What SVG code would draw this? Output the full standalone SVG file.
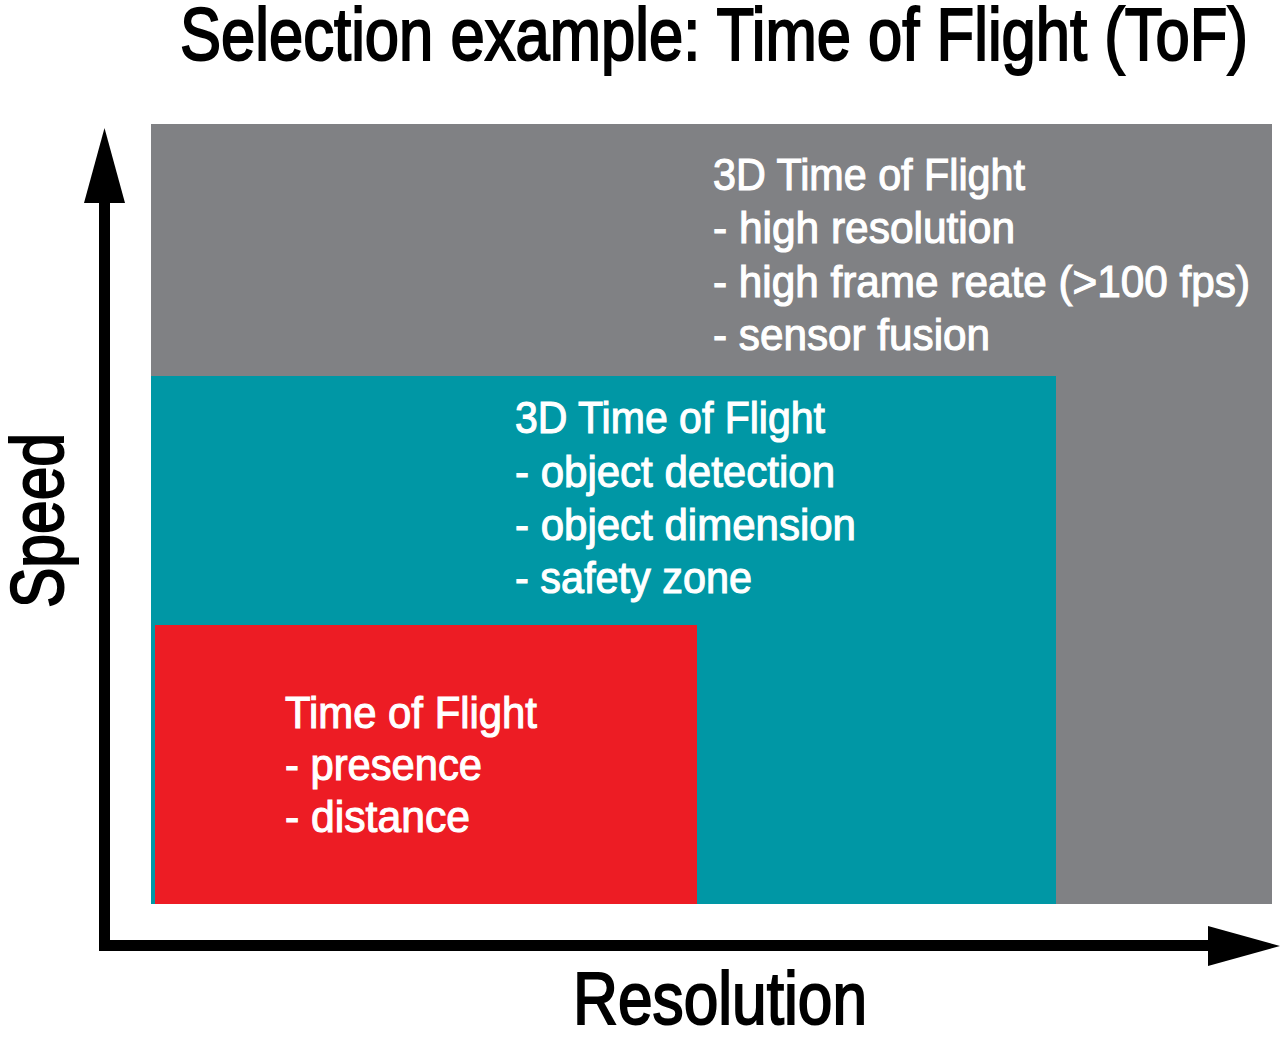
<svg xmlns="http://www.w3.org/2000/svg" width="1280" height="1038" viewBox="0 0 1280 1038">
<style>
text{font-family:"Liberation Sans","Arial",sans-serif;}
.lbl{fill:#ffffff;stroke:#ffffff;stroke-width:1.1px;font-size:44px;}
.axis{fill:#000000;stroke:#000000;stroke-width:2px;font-size:74px;}
</style>
<rect x="0" y="0" width="1280" height="1038" fill="#ffffff"/>
<g id="title">
<text class="axis" x="180" y="60" textLength="1068" lengthAdjust="spacingAndGlyphs">Selection example: Time of Flight (ToF)</text>
</g>
<g id="node-3d-tof-high">
<rect x="151" y="124" width="1121" height="780" fill="#808184"/>
<text class="lbl" x="713" y="190" textLength="312" lengthAdjust="spacingAndGlyphs">3D Time of Flight</text>
<text class="lbl" x="713" y="243" textLength="302" lengthAdjust="spacingAndGlyphs">- high resolution</text>
<text class="lbl" x="713" y="297" textLength="537" lengthAdjust="spacingAndGlyphs">- high frame reate (&gt;100 fps)</text>
<text class="lbl" x="713" y="350" textLength="277" lengthAdjust="spacingAndGlyphs">- sensor fusion</text>
</g>
<g id="node-3d-tof">
<rect x="151" y="376" width="905" height="528" fill="#0097A5"/>
<text class="lbl" x="515" y="433" textLength="310" lengthAdjust="spacingAndGlyphs">3D Time of Flight</text>
<text class="lbl" x="515" y="487" textLength="320" lengthAdjust="spacingAndGlyphs">- object detection</text>
<text class="lbl" x="515" y="540" textLength="341" lengthAdjust="spacingAndGlyphs">- object dimension</text>
<text class="lbl" x="515" y="593" textLength="237" lengthAdjust="spacingAndGlyphs">- safety zone</text>
</g>
<g id="node-tof">
<rect x="155" y="625" width="542" height="279" fill="#ED1C24"/>
<text class="lbl" x="285" y="728" textLength="252" lengthAdjust="spacingAndGlyphs">Time of Flight</text>
<text class="lbl" x="285" y="780" textLength="197" lengthAdjust="spacingAndGlyphs">- presence</text>
<text class="lbl" x="285" y="832" textLength="185" lengthAdjust="spacingAndGlyphs">- distance</text>
</g>
<g id="connectors">
<path d="M104.5 200 V945.5 H1212" fill="none" stroke="#000000" stroke-width="11"/>
<polygon points="84,203 125,203 104.5,128" fill="#000000"/>
<polygon points="1208,926 1208,966 1280,946" fill="#000000"/>
</g>
<g id="axis-labels">
<text class="axis" x="573" y="1024" textLength="294" lengthAdjust="spacingAndGlyphs">Resolution</text>
<text class="axis" transform="translate(63,608) rotate(-90)" x="0" y="0" font-size="76" textLength="175" lengthAdjust="spacingAndGlyphs">Speed</text>
</g>
</svg>
